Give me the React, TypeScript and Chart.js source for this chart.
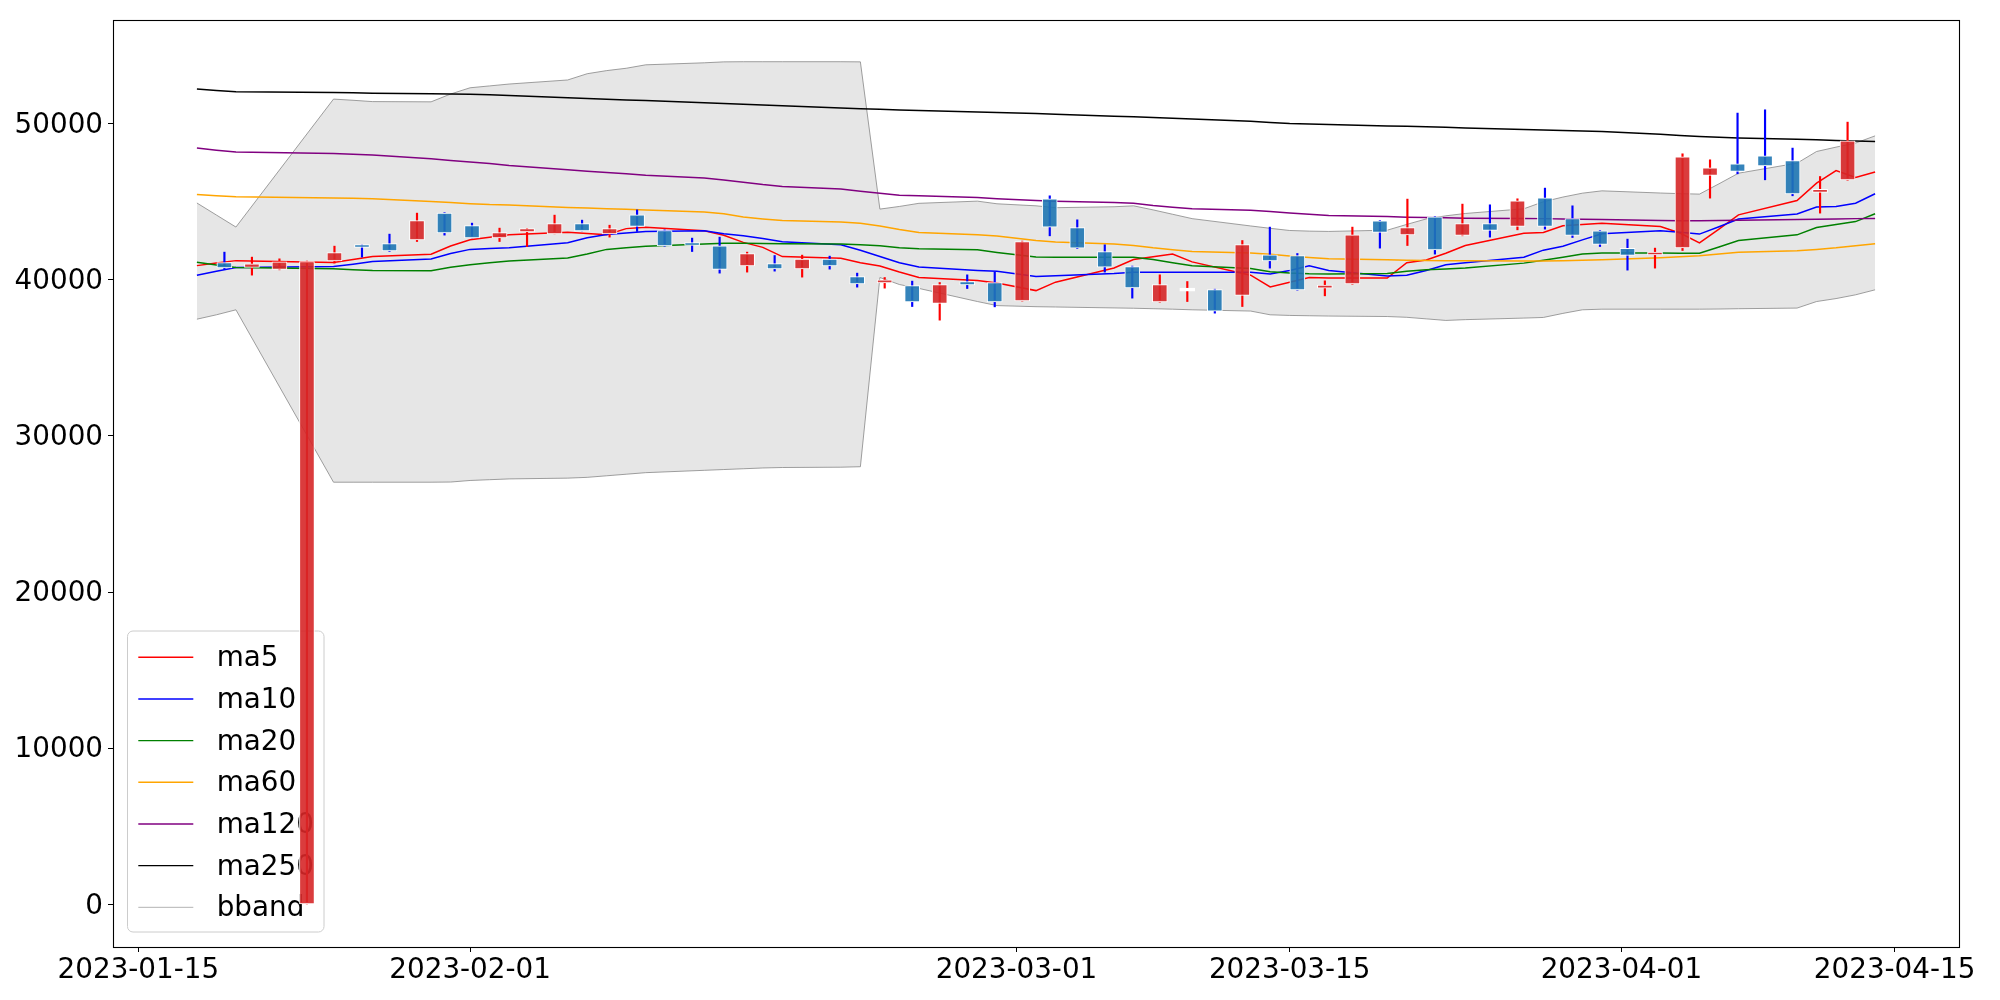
import React, { useEffect, useRef } from 'react';
import { Chart, registerables } from 'chart.js';

Chart.register(...registerables);

const FONT = '"DejaVu Sans", sans-serif';

const dates = [
  '2023-01-18', '2023-01-19', '2023-01-20', '2023-01-25', '2023-01-26', '2023-01-27', '2023-01-30', '2023-01-31',
  '2023-02-01', '2023-02-02', '2023-02-03', '2023-02-06', '2023-02-07', '2023-02-08', '2023-02-09', '2023-02-10',
  '2023-02-13', '2023-02-14', '2023-02-15', '2023-02-16', '2023-02-17', '2023-02-20', '2023-02-21', '2023-02-22',
  '2023-02-23', '2023-02-24', '2023-02-27', '2023-02-28', '2023-03-02', '2023-03-03', '2023-03-06', '2023-03-07',
  '2023-03-08', '2023-03-09', '2023-03-10', '2023-03-13', '2023-03-14', '2023-03-15', '2023-03-16', '2023-03-17',
  '2023-03-20', '2023-03-21', '2023-03-22', '2023-03-23', '2023-03-24', '2023-03-27', '2023-03-28', '2023-03-29',
  '2023-03-30', '2023-03-31', '2023-04-03', '2023-04-04', '2023-04-05', '2023-04-06', '2023-04-07', '2023-04-10',
  '2023-04-11', '2023-04-12', '2023-04-13', '2023-04-14',
];

const opens = [
  41108, 40788, 40660, 0, 41217, 42110, 42326, 42563, 44272, 43479,
  42691, 43075, 42947, 43606, 42947, 44163, 43159, 42240, 42178, 40897,
  41045, 40705, 41326, 40212, 39810, 39635, 38482, 39891, 39827, 38655,
  45190, 43350, 41813, 40852, 38591, 39468, 39380, 38995, 41602, 41557,
  39468, 39744, 43779, 42883, 44035, 42838, 43606, 43415, 45254, 43927,
  43139, 42012, 41590, 42050, 46682, 47431, 47944, 47643, 45600, 46406,
];
const highs = [
  41774, 41454, 41345, 41200, 42158, 42241, 42927, 44272, 44300, 43631,
  43311, 43300, 44144, 43823, 43500, 44480, 43200, 42672, 42735, 41774,
  41557, 41582, 41518, 40429, 40148, 39917, 39827, 40320, 40493, 42480,
  45381, 43844, 42241, 40880, 40320, 39891, 39400, 42518, 43376, 41685,
  39936, 43376, 43800, 45170, 44050, 44850, 44804, 45190, 45874, 44740,
  43160, 42607, 42031, 48072, 47687, 50679, 50890, 48437, 46618, 50100,
];
const lows = [
  40685, 40301, 40640, 0, 41070, 41454, 41820, 42454, 42863, 42691,
  42454, 42133, 42947, 43139, 42735, 43100, 42150, 41813, 40429, 40494,
  40557, 40173, 40685, 39532, 39468, 38290, 37418, 39443, 38270, 38640,
  42819, 42000, 40494, 38828, 38570, 38610, 37866, 38290, 40750, 39340,
  38975, 39720, 42031, 42197, 41646, 42820, 42735, 43203, 43247, 42710,
  42133, 40621, 40750, 41877, 45233, 46790, 46406, 45382, 44273, 46380,
];
const closes = [
  40769, 41025, 41153, 41172, 41749, 42070, 41858, 43800, 43011, 42691,
  43031, 43286, 43606, 43139, 43286, 43415, 42179, 42200, 40660, 41685,
  40705, 41326, 40897, 39744, 39840, 38591, 39700, 39680, 38591, 42454,
  43376, 42031, 40814, 39487, 39700, 39468, 37995, 42261, 41217, 39359,
  39570, 42883, 43031, 43350, 41922, 43606, 43159, 45062, 43415, 42838,
  42261, 41557, 41615, 47879, 47175, 46938, 47303, 45510, 45630, 48905,
];

const ma5 = [
  40910, 41080, 41230, 41110, 41300, 41490, 41640, 42170, 42560, 42720,
  42880, 43050, 42960, 42890, 43280, 43370, 43140, 42850, 42400, 42080,
  41490, 41380, 41100, 40890, 40500, 40150, 39960, 39800, 39310, 39850,
  40760, 41300, 41480, 41650, 41150, 40300, 39550, 39850, 40150, 40110,
  40110, 41100, 41270, 41700, 42200, 42990, 43030, 43460, 43550, 43630,
  43420, 43000, 42360, 43250, 44160, 45080, 46190, 47000, 46550, 46900,
];
const ma10 = [
  40300, 40550, 40790, 40850, 41000, 41170, 41340, 41680, 41950, 42000,
  42050, 42380, 42700, 42900, 43000, 43100, 43150, 42950, 42820, 42650,
  42440, 42240, 41900, 41500, 41100, 40820, 40600, 40550, 40220, 40260,
  40400, 40490, 40490, 40490, 40490, 40490, 40380, 40600, 40900, 40600,
  40250, 40300, 40600, 40960, 41100, 41450, 41900, 42150, 42560, 42950,
  43150, 43050, 42930, 43400, 43900, 44220, 44660, 44700, 44910, 45510,
];
const ma20 = [
  41130, 40950, 40790, 40710, 40650, 40600, 40580, 40800, 40960, 41100,
  41200, 41400, 41650, 41950, 42050, 42150, 42300, 42350, 42350, 42330,
  42310, 42300, 42250, 42180, 42060, 41990, 41920, 41750, 41460, 41440,
  41450, 41450, 41300, 41100, 40900, 40720, 40520, 40440, 40390, 40370,
  40400, 40550, 40650, 40700, 40750, 41070, 41250, 41450, 41650, 41720,
  41720, 41700, 41700, 42100, 42520, 42880, 43350, 43550, 43730, 44230,
];
const ma60 = [
  45460, 45390, 45320, 45240, 45220, 45190, 45020, 44950, 44880, 44820,
  44790, 44640, 44600, 44550, 44520, 44480, 44340, 44230, 44020, 43900,
  43800, 43700, 43620, 43450, 43220, 43030, 42880, 42800, 42520, 42420,
  42290, 42200, 42050, 41930, 41820, 41720, 41640, 41530, 41430, 41345,
  41280, 41250, 41236, 41230, 41225, 41210, 41200, 41220, 41250, 41290,
  41420, 41480, 41550, 41660, 41770, 41870, 41950, 42050, 42180, 42310,
];
const ma120 = [
  48440, 48300, 48180, 48090, 48050, 48000, 47750, 47650, 47550, 47450,
  47320, 47050, 46950, 46870, 46800, 46700, 46520, 46400, 46250, 46100,
  45980, 45820, 45680, 45550, 45420, 45380, 45270, 45200, 45080, 45030,
  44960, 44900, 44760, 44650, 44550, 44450, 44380, 44280, 44200, 44120,
  44050, 44010, 43990, 43970, 43950, 43930, 43920, 43900, 43880, 43860,
  43800, 43790, 43780, 43800, 43820, 43860, 43880, 43900, 43920, 43930,
];
const ma250 = [
  52220, 52120, 52040, 52000, 51980, 51950, 51920, 51900, 51890, 51850,
  51800, 51660, 51610, 51570, 51520, 51480, 51340, 51290, 51240, 51200,
  51150, 51000, 50950, 50920, 50880, 50850, 50750, 50710, 50650, 50610,
  50480, 50440, 50390, 50350, 50300, 50150, 50080, 50010, 49980, 49950,
  49860, 49830, 49800, 49770, 49730, 49630, 49600, 49570, 49530, 49500,
  49320, 49250, 49180, 49130, 49090, 49000, 48970, 48930, 48890, 48860,
];
const bbUpper = [
  44920, 44150, 43380, 51576, 51500, 51415, 51400, 51900, 52300, 52420,
  52540, 52800, 53200, 53400, 53550, 53770, 53900, 53960, 53970, 53970,
  53970, 53970, 53960, 44530, 44700, 44900, 45040, 44870, 44740, 44620,
  44680, 44740, 44480, 44200, 43920, 43450, 43300, 43160, 43120, 43100,
  43180, 43550, 43900, 44100, 44250, 44550, 45000, 45300, 45550, 45700,
  45560, 45520, 45490, 46150, 46830, 47470, 48220, 48500, 48760, 49220,
];
const bbLower = [
  37480, 37760, 38080, 27040, 27040, 27040, 27040, 27050, 27150, 27200,
  27250, 27300, 27350, 27450, 27550, 27650, 27800, 27850, 27900, 27950,
  27980, 28000, 28030, 40150, 39700, 39450, 38610, 38350, 38280, 38260,
  38200, 38180, 38150, 38120, 38080, 38000, 37760, 37720, 37700, 37680,
  37650, 37600, 37500, 37400, 37450, 37550, 37590, 37850, 38080, 38120,
  38120, 38120, 38120, 38130, 38150, 38190, 38610, 38800, 39040, 39360,
];

const xTickLabels = ['2023-01-15', '2023-02-01', '2023-03-01', '2023-03-15', '2023-04-01', '2023-04-15'];
const yTickValues = [0, 10000, 20000, 30000, 40000, 50000];

const legendNames = ['ma5', 'ma10', 'ma20', 'ma60', 'ma120', 'ma250', 'bband'];
const legendColors = ['#ff0000', '#0000ff', '#008000', '#ffa500', '#800080', '#000000', 'rgba(128,128,128,0.6)'];

const UP_BODY = 'rgba(214,39,40,0.9)';
const DOWN_BODY = 'rgba(31,119,180,0.9)';
const FLAT_BODY = '#ffffff';
const UP_WICK = '#ff0000';
const DOWN_WICK = '#0000ff';
const BAND_LINE = 'rgba(128,128,128,0.75)';
const BAND_FILL = 'rgba(128,128,128,0.2)';

const toDay = (s: string) => {
  const [y, m, d] = s.split('-').map(Number);
  return Date.UTC(y, m - 1, d) / 86400000;
};
const fromDay = (v: number) => new Date(Math.round(v) * 86400000).toISOString().slice(0, 10);

const legendPlugin = {
  id: 'mplLegend',
  beforeDatasetDraw(chart: any, args: any) {
    if (args.index !== 1) return;
    const ctx = chart.ctx;
    const ca = chart.chartArea;
    ctx.save();
    const x0 = ca.left + 14.5;
    const y1 = ca.bottom - 15;
    const w = 196.5;
    const h = 301;
    const y0 = y1 - h;
    ctx.beginPath();
    ctx.roundRect(x0, y0, w, h, 5.5);
    ctx.fillStyle = 'rgba(255,255,255,0.8)';
    ctx.fill();
    ctx.strokeStyle = '#cccccc';
    ctx.lineWidth = 1;
    ctx.stroke();
    ctx.font = `27.8px ${FONT}`;
    ctx.textBaseline = 'alphabetic';
    legendNames.forEach((n, i) => {
      const y = y0 + 26.3 + i * 41.67;
      ctx.beginPath();
      ctx.moveTo(x0 + 10.8, y);
      ctx.lineTo(x0 + 65.8, y);
      ctx.strokeStyle = legendColors[i];
      ctx.lineWidth = i === 6 ? 1 : 1.4;
      ctx.stroke();
      ctx.fillStyle = '#000';
      ctx.fillText(n, x0 + 89.2, y + 9);
    });
    ctx.restore();
  },
};

const framePlugin = {
  id: 'frame',
  afterDatasetsDraw(chart: any) {
    const ctx = chart.ctx;
    const ca = chart.chartArea;
    ctx.save();
    ctx.strokeStyle = '#000';
    ctx.lineWidth = 1.1;
    ctx.strokeRect(Math.round(ca.left) + 0.5, Math.round(ca.top) + 0.5, Math.round(ca.right - ca.left), Math.round(ca.bottom - ca.top));
    ctx.restore();
  },
};

const lineDs = (label: string, arr: number[], color: string, extra: any = {}) => ({
  type: 'line',
  label,
  xAxisID: 'x',
  yAxisID: 'y',
  data: dates.map((d, i) => ({ x: toDay(d), y: arr[i] })),
  borderColor: color,
  borderWidth: 1.5,
  pointRadius: 0,
  tension: 0,
  fill: false,
  ...extra,
});

export default function App() {
  const ref = useRef<HTMLCanvasElement>(null);
  useEffect(() => {
    const idx = opens.map((_, i) => i);
    const chart = new Chart(ref.current as HTMLCanvasElement, {
      type: 'line',
      data: {
        datasets: [
          {
            type: 'bar',
            label: 'body',
            xAxisID: 'xc',
            yAxisID: 'y',
            data: idx.map((i) => ({ x: i, y: [opens[i], closes[i]] })),
            backgroundColor: idx.map((i) =>
              closes[i] === opens[i] ? FLAT_BODY : closes[i] > opens[i] ? UP_BODY : DOWN_BODY,
            ),
            borderColor: '#ffffff',
            borderWidth: 1,
            borderSkipped: false,
            grouped: false,
            barPercentage: 1,
            categoryPercentage: 1,
            maxBarThickness: 15,
            minBarLength: 3,
          },
          {
            type: 'bar',
            label: 'wick',
            xAxisID: 'xc',
            yAxisID: 'y',
            data: idx.map((i) => ({ x: i, y: [lows[i], highs[i]] })),
            backgroundColor: idx.map((i) => (closes[i] >= opens[i] ? UP_WICK : DOWN_WICK)),
            borderWidth: 0,
            grouped: false,
            barPercentage: 1,
            categoryPercentage: 1,
            maxBarThickness: 1.5,
          },
          lineDs('ma250', ma250, '#000000'),
          lineDs('ma120', ma120, '#800080'),
          lineDs('ma60', ma60, '#ffa500'),
          lineDs('ma20', ma20, '#008000'),
          lineDs('ma10', ma10, '#0000ff'),
          lineDs('ma5', ma5, '#ff0000'),
          lineDs('bband', bbUpper, BAND_LINE, { borderWidth: 1, fill: '+1', backgroundColor: BAND_FILL }),
          lineDs('bbandLower', bbLower, BAND_LINE, { borderWidth: 1 }),
        ] as any,
      },
      options: {
        animation: false,
        responsive: false,
        devicePixelRatio: 1,
        layout: { padding: { top: 20, right: 41, left: 0, bottom: 0 } },
        plugins: { legend: { display: false }, tooltip: { enabled: false } },
        scales: {
          x: {
            type: 'linear',
            position: 'bottom',
            min: toDay(dates[0]) - 4.3,
            max: toDay(dates[dates.length - 1]) + 4.3,
            offset: false,
            afterBuildTicks: (s: any) => {
              s.ticks = xTickLabels.map((l) => ({ value: toDay(l) }));
            },
            afterFit: (s: any) => {
              s.height = 53;
              s.paddingLeft = 0;
              s.paddingRight = 0;
            },
            ticks: {
              autoSkip: false,
              maxRotation: 0,
              minRotation: 0,
              color: '#000',
              padding: 2,
              font: { family: FONT, size: 27.8 },
              callback: (v: any) => fromDay(Number(v)),
            },
            grid: { drawOnChartArea: false, drawTicks: true, tickLength: 5, color: '#000', lineWidth: 1 },
            border: { display: false },
          },
          xc: {
            type: 'linear',
            display: false,
            min: -4.05,
            max: 63.05,
            offset: false,
          },
          y: {
            type: 'linear',
            position: 'left',
            min: -2729,
            max: 56641,
            afterBuildTicks: (s: any) => {
              s.ticks = yTickValues.map((v) => ({ value: v }));
            },
            afterFit: (s: any) => {
              s.width = 113;
              s.paddingTop = 0;
              s.paddingBottom = 0;
            },
            ticks: {
              color: '#000',
              padding: 5,
              labelOffset: 2,
              font: { family: FONT, size: 27.8 },
              callback: (v: any) => String(v),
            },
            grid: { drawOnChartArea: false, drawTicks: true, tickLength: 5, color: '#000', lineWidth: 1 },
            border: { display: false },
          },
        },
      } as any,
      plugins: [legendPlugin, framePlugin],
    });
    return () => chart.destroy();
  }, []);
  return (
    <div style={{ position: 'absolute', left: 0, top: 0, width: 2000, height: 1000, background: '#ffffff' }}>
      <canvas ref={ref} width={2000} height={1000} style={{ display: 'block', width: 2000, height: 1000 }} />
    </div>
  );
}
